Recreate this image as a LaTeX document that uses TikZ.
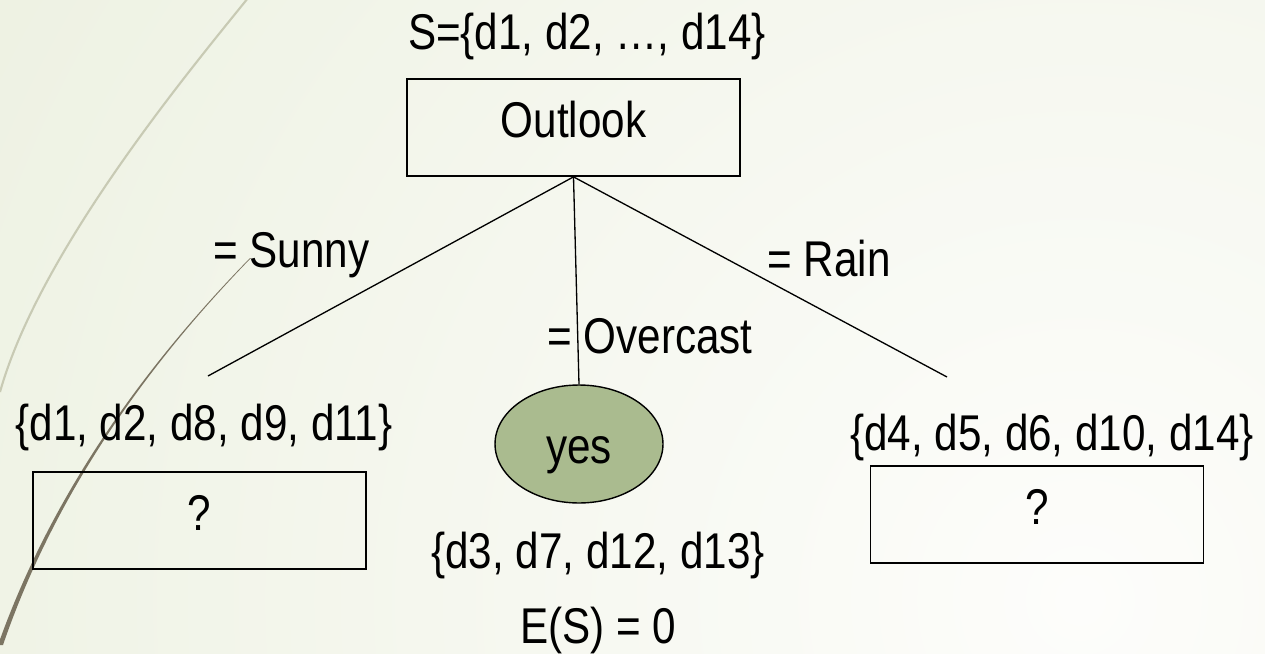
\documentclass[tikz,border=0pt]{standalone}
\usepackage{fontspec}
\setmainfont{Liberation Sans}[FakeStretch=0.84]
\usepackage{tikz}
\usetikzlibrary{positioning}
\usetikzlibrary{shapes.geometric}

\definecolor{bgwhite}{RGB}{253,253,251}
\definecolor{bggreen}{RGB}{222,230,202}
\definecolor{swooshlight}{RGB}{200,202,180}
\definecolor{swooshdark}{RGB}{124,117,99}
\definecolor{leafgreen}{RGB}{170,187,143}

\begin{document}
\begin{tikzpicture}[x=0.02cm,y=-0.02cm,
                    every node/.style={font=\fontsize{28.6}{34}\selectfont,inner sep=0pt},
                    test node/.style={rectangle,draw,line width=1pt,minimum width=6.66cm,minimum height=1.94cm,text height=0.72cm,text depth=0.34cm},
                    leaf node/.style={ellipse,draw,line width=0.8pt,fill=leafgreen,minimum width=3.36cm,minimum height=2.36cm,text height=0.76cm,text depth=0pt},
                    branch/.style={line width=0.75pt}]

  \useasboundingbox (0,0) rectangle (1265,653);
  \begin{scope}
    \clip (0,0) rectangle (1265,653);
    \shade[inner color=bgwhite,outer color=bggreen] (1080,600) circle (50cm);
    \draw[swooshlight,line width=1.2pt] (248,-2) .. controls (190,70) and (40,250) .. (0,392);
    \fill[swooshdark] (250,258) .. controls (170,340) and (60,470) .. (-2,645) -- (3,645) .. controls (63,470) and (171.5,340) .. (251,258) -- cycle;
  \end{scope}

  \node[test node] (outlook) at (573.5,127.5) {Outlook};
  \node[anchor=base] (sset) at (587,49) {S=\{d1, d2, …, d14\}};

  \node[leaf node] (yes) at (579,444) {yes};
  \node[test node] (sunnybox) at (199.5,520.5) {?};
  \node[test node] (rainbox) at (1037,514.5) {?};

  \node[anchor=base] (sunnyset) at (204,440) {\{d1, d2, d8, d9, d11\}};
  \node[anchor=base] (rainset) at (1052,450) {\{d4, d5, d6, d10, d14\}};
  \node[anchor=base] (overcastset) at (598,568) {\{d3, d7, d12, d13\}};
  \node[below=0.55cm of overcastset] (entropy) {E(S) = 0};

  \coordinate (sunnyend) at (208,376);
  \coordinate (rainend) at (947,377);
  \draw[branch] (outlook.south) -- (sunnyend);
  \draw[branch] (outlook.south) -- (yes.north);
  \draw[branch] (outlook.south) -- (rainend);

  \node[anchor=base west] (sunny) at (213,267) {= Sunny};
  \node[anchor=base west] (overcast) at (547,353) {= Overcast};
  \node[anchor=base west] (rain) at (767,276) {= Rain};
\end{tikzpicture}
\end{document}
